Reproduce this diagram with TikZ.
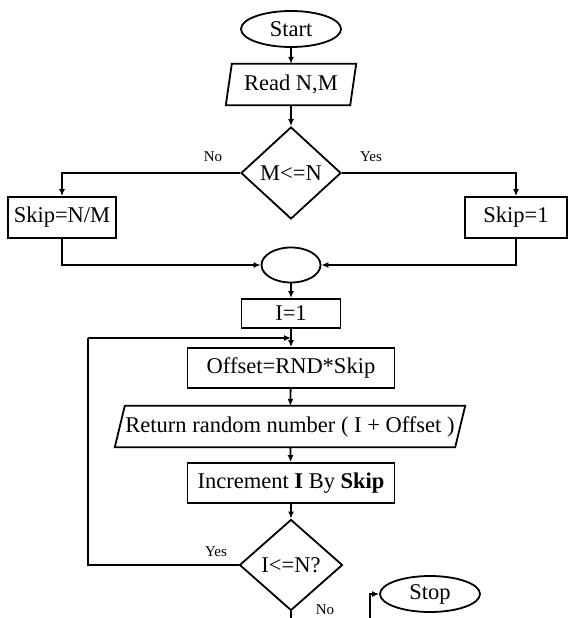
\documentclass[tikz,border=0pt]{standalone}
\usepackage{fontspec}
\setmainfont{Liberation Serif}
\usetikzlibrary{shapes.geometric,arrows.meta,calc}
\begin{document}
\begin{tikzpicture}[x=1pt,y=1pt,
  every node/.style={font=\fontsize{22.5}{26}\selectfont, inner sep=0pt},
  line/.style={line width=1.8pt, black},
  arr/.style={line, -{Latex[length=7pt,width=6pt]}},
  term/.style={ellipse, draw, line width=1.8pt, minimum width=100pt, minimum height=36pt},
  proc/.style={rectangle, draw, line width=1.8pt, minimum height=40pt},
  iobody/.style={rectangle, minimum height=41pt},
  dec/.style={diamond, draw, line width=1.8pt, inner sep=0pt},
  lbl/.style={font=\fontsize{15}{17}\selectfont}]
\useasboundingbox (0,0) rectangle (569,-618);

% nodes
\node[term] (start) at (291,-29) {Start};
\node[iobody, minimum width=124pt] (read) at (291,-84.5) {Read N,M};
\draw[line] ($(read.north west)+(3,0)$) -- ($(read.north east)+(3,0)$) -- ($(read.south east)+(-3,0)$) -- ($(read.south west)+(-3,0)$) -- cycle;
\node[dec, minimum width=100pt, minimum height=92pt] (d1) at (291,-173) {M<=N};
\node[proc, minimum width=108pt, minimum height=41pt] (skipa) at (62,-217.5) {Skip=N/M};
\node[proc, minimum width=102pt, minimum height=41pt] (skipb) at (516,-217.5) {Skip=1};
\node[ellipse, draw, line width=1.8pt, minimum width=59pt, minimum height=35pt] (mid) at (291,-265) {};
\node[proc, minimum width=99pt, minimum height=29pt] (i1) at (291,-313.5) {I=1};
\node[proc, minimum width=207pt] (offset) at (291,-368) {Offset=RND*Skip};
\node[iobody, minimum width=340pt] (ret) at (290,-426.5) {Return random number ( I + Offset )};
\draw[line] ($(ret.north west)+(5,0)$) -- ($(ret.north east)+(5,0)$) -- ($(ret.south east)+(-5,0)$) -- ($(ret.south west)+(-5,0)$) -- cycle;
\node[proc, minimum width=207pt] (inc) at (291,-483) {Increment \textbf{I} By \textbf{Skip}};
\node[dec, minimum width=103pt, minimum height=91pt] (d2) at (291,-565) {I<=N?};
\node[term] (stop) at (430,-594) {Stop};

% labels
\node[lbl] (no1) at (213,-157) {No};
\node[lbl] (yes1) at (371,-157) {Yes};
\node[lbl] (yes2) at (216,-552) {Yes};
\node[lbl] (no2) at (325,-610) {No};

% helper coordinates
\coordinate (loopx) at (88,-338);
\coordinate (join) at (291,-338);
\coordinate (bottom) at (291,-618);
\coordinate (stopfoot) at (370,-618);

% connectors
\draw[arr] (start) -- (read);
\draw[arr] (read) -- (d1);
\draw[arr] (d1.west) -| (skipa.north);
\draw[arr] (d1.east) -| (skipb.north);
\draw[arr] (skipa.south) |- (mid.west);
\draw[arr] (skipb.south) |- (mid.east);
\draw[arr] (mid) -- (i1);
\draw[arr] (i1) -- (offset);
\draw[arr] (offset) -- (ret);
\draw[arr] (ret) -- (inc);
\draw[arr] (inc) -- (d2);
\draw[line] (d2.west) -| (loopx);
\draw[arr] (loopx) -- (join);
\draw[line] (d2.south) -- (bottom);
\draw[arr] (stopfoot) |- (stop.west);
\end{tikzpicture}
\end{document}
